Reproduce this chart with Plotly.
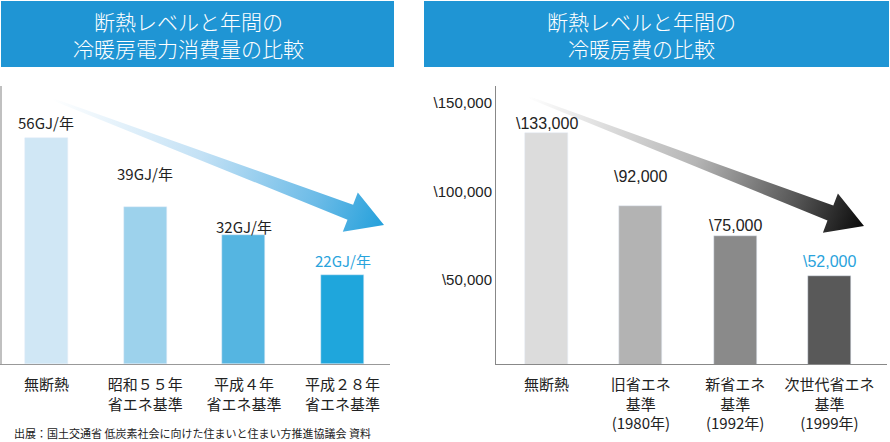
import base64

import plotly.graph_objects as go

# left chart: annual heating/cooling energy (GJ/year)
energy_cats = ["無断熱", "昭和５５年<br>省エネ基準", "平成４年<br>省エネ基準", "平成２８年<br>省エネ基準"]
energy_vals = [56, 39, 32, 22]
energy_text = ["56GJ/年", "39GJ/年", "32GJ/年", "22GJ/年"]

# right chart: annual heating/cooling cost (yen)
cost_cats = ["無断熱", "旧省エネ<br>基準<br>(1980年)", "新省エネ<br>基準<br>(1992年)", "次世代省エネ<br>基準<br>(1999年)"]
cost_vals = [133000, 92000, 75000, 52000]
cost_text = ["\\133,000", "\\92,000", "\\75,000", "\\52,000"]
cost_ticks = [50000, 100000, 150000]
cost_ticktext = ["\\50,000", "\\100,000", "\\150,000"]

title_left = "断熱レベルと年間の<br>冷暖房電力消費量の比較"
title_right = "断熱レベルと年間の<br>冷暖房費の比較"
source = "出展：国土交通省 低炭素社会に向けた住まいと住まい方推進協議会 資料"

W, H = 890, 442
JP = "Noto Sans CJK JP"
BLUE = "#1f95d4"
HILITE = "#29a3dc"

energy_colors = ["#d0e7f5", "#9dd2ec", "#55b5e1", "#1fa6dc"]
cost_colors = ["#dcdcdc", "#b3b3b3", "#8a8a8a", "#595959"]

# vertical nudges for value labels (px), as in the original artwork
energy_shift = [16, 33, 9, 15]
cost_shift = [10, 29, 10, 15]


def px_x(v):
    return v / W


def px_y(v):
    return 1 - v / H


fig = go.Figure()

fig.add_trace(go.Bar(
    x=energy_cats, y=energy_vals, marker_color=energy_colors,
    width=0.436, xaxis="x", yaxis="y", showlegend=False, hoverinfo="skip",
))
fig.add_trace(go.Bar(
    x=cost_cats, y=cost_vals, marker_color=cost_colors,
    width=0.456, xaxis="x2", yaxis="y2", showlegend=False, hoverinfo="skip",
))

annotations = []
for i, (c, v, t) in enumerate(zip(energy_cats, energy_vals, energy_text)):
    annotations.append(dict(
        x=c, y=v, xref="x", yref="y", text=t, showarrow=False,
        xanchor="center", yanchor="middle", yshift=energy_shift[i],
        font=dict(family=JP, size=15, color=HILITE if i == 3 else "#222222"),
    ))
for i, (c, v, t) in enumerate(zip(cost_cats, cost_vals, cost_text)):
    annotations.append(dict(
        x=c, y=v, xref="x2", yref="y2", text=t, showarrow=False,
        xanchor="center", yanchor="middle", yshift=cost_shift[i],
        font=dict(family="Liberation Sans", size=16, color=HILITE if i == 3 else "#222222"),
    ))

# banner titles
annotations.append(dict(
    x=px_x(188), y=px_y(35), xref="paper", yref="paper", text=title_left,
    showarrow=False, xanchor="center", yanchor="middle",
    font=dict(family=JP, size=21, color="white", weight=300),
))
annotations.append(dict(
    x=px_x(641), y=px_y(35), xref="paper", yref="paper", text=title_right,
    showarrow=False, xanchor="center", yanchor="middle",
    font=dict(family=JP, size=21, color="white", weight=300),
))
annotations.append(dict(
    x=px_x(12), y=px_y(433), xref="paper", yref="paper", text=source,
    showarrow=False, xanchor="left", yanchor="middle",
    font=dict(family=JP, size=11, color="#222222"),
))

shapes = [
    dict(type="rect", xref="paper", yref="paper", x0=px_x(1), x1=px_x(394),
         y0=px_y(67), y1=px_y(1), fillcolor=BLUE, line_width=0, layer="below"),
    dict(type="rect", xref="paper", yref="paper", x0=px_x(424), x1=px_x(889),
         y0=px_y(67), y1=px_y(1), fillcolor=BLUE, line_width=0, layer="below"),
]

# gradient arrows drawn as an svg overlay
arrow_svg = f"""<svg xmlns="http://www.w3.org/2000/svg" width="{W}" height="{H}" viewBox="0 0 {W} {H}" preserveAspectRatio="none">
<defs>
<linearGradient id="gb" gradientUnits="userSpaceOnUse" x1="52" y1="99" x2="384" y2="225">
<stop offset="0" stop-color="#ffffff"/><stop offset="0.45" stop-color="#c3e1f5"/>
<stop offset="0.8" stop-color="#6bbbe7"/><stop offset="1" stop-color="#24a0db"/>
</linearGradient>
<linearGradient id="gk" gradientUnits="userSpaceOnUse" x1="528" y1="97" x2="864" y2="226">
<stop offset="0" stop-color="#ffffff"/><stop offset="0.5" stop-color="#b5b5b5"/>
<stop offset="0.8" stop-color="#555555"/><stop offset="1" stop-color="#0a0a0a"/>
</linearGradient>
</defs>
<polygon fill="url(#gb)" points="52.4,98.1 353.1,204.7 357.8,192.6 384,225 342.8,231.8 347.5,219.7 51.6,99.9"/>
<polygon fill="url(#gk)" points="528.4,96.1 833.3,205.6 837.9,193.5 864,226 822.9,232.7 827.5,220.6 527.6,97.9"/>
</svg>"""
arrow_src = "data:image/svg+xml;base64," + base64.b64encode(arrow_svg.encode("utf-8")).decode()

fig.update_layout(
    width=W, height=H,
    margin=dict(l=0, r=0, t=0, b=0),
    paper_bgcolor="white", plot_bgcolor="white",
    bargap=0,
    font=dict(family=JP, color="#222222"),
    annotations=annotations,
    shapes=shapes,
    images=[dict(source=arrow_src, xref="paper", yref="paper", x=0, y=1,
                 sizex=1, sizey=1, xanchor="left", yanchor="top",
                 sizing="stretch", layer="above")],
    xaxis=dict(domain=[px_x(2), px_x(390)], range=[-0.45, 3.48],
               showline=True, linecolor="#999999", linewidth=1,
               showgrid=False, ticks="", fixedrange=True, ticklabelstandoff=7,
               tickfont=dict(family=JP, size=15, color="#222222")),
    yaxis=dict(domain=[px_y(364), px_y(86)], range=[0, 69], fixedrange=True,
               showline=True, linecolor="#c0c0c0", linewidth=3,
               showgrid=False, zeroline=False, showticklabels=False, ticks=""),
    xaxis2=dict(domain=[px_x(496), px_x(887)], range=[-0.536, 3.61],
                anchor="y2", showline=True, linecolor="#888888", linewidth=1,
                showgrid=False, ticks="", fixedrange=True, ticklabelstandoff=7,
                tickfont=dict(family=JP, size=15, color="#222222")),
    yaxis2=dict(domain=[px_y(364), px_y(86)], range=[2500, 159600], fixedrange=True,
                anchor="x2", showline=True, linecolor="#888888", linewidth=1,
                showgrid=False, zeroline=False, ticks="",
                tickvals=cost_ticks, ticktext=cost_ticktext,
                tickfont=dict(family="Liberation Sans", size=15, color="#222222")),
)

# drop the browser's default body margin so the figure sits at the page corner
fig.write_html("out.html", config={"displayModeBar": False},
               post_script="document.body.style.margin='0';")
